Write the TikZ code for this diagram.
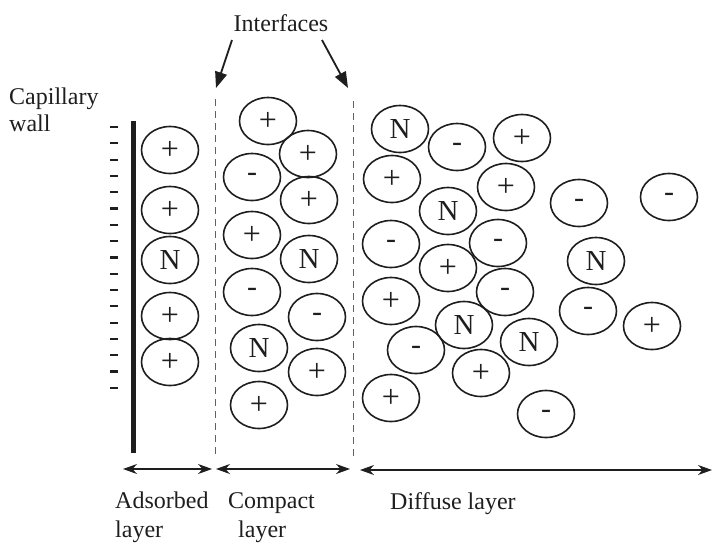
\documentclass[tikz,border=0pt]{standalone}
\usepackage{fontspec}
\setmainfont{Liberation Serif}
\usetikzlibrary{shapes.geometric,arrows.meta}
\definecolor{ink}{HTML}{1E1E1E}
\begin{document}
\begin{tikzpicture}[x=1pt,y=-1pt,
  ion/.style={draw=ink, ellipse, line width=1.6pt, minimum width=57pt, minimum height=47pt, inner sep=0pt, text=ink},
  posion/.style={ion, font=\fontsize{32}{32}\selectfont},
  negion/.style={ion, font=\fontsize{30}{30}\selectfont},
  neuion/.style={ion, font=\fontsize{29}{29}\selectfont},
  lbl/.style={text=ink, inner sep=0pt, font=\fontsize{24}{26}\selectfont},
  iface/.style={draw=ink!70, line width=0.9pt, dash pattern=on 7pt off 5pt},
  ifarrow/.style={draw=ink, line width=1.8pt, -{Triangle[length=16pt,width=12pt]}},
  span/.style={draw=ink, line width=1.3pt, {Stealth[length=14pt,width=10pt]}-{Stealth[length=14pt,width=10pt]}},
  wall/.style={draw=ink, line width=5pt},
  charge/.style={draw=ink, line width=2.2pt}
]
\useasboundingbox (0,0) rectangle (713,542);

% capillary wall
\draw[wall] (133,121) -- (133,453);
\foreach \k in {0,...,16} \draw[charge] (110,{127+16.3*\k}) -- (118,{127+16.3*\k});

% interfaces
\draw[iface] (215,99) -- (215,456);
\draw[iface] (353,101) -- (353,457);

% labels
\node[lbl, anchor=base west] (cap1) at (9,104) {Capillary};
\node[lbl, anchor=base west] (cap2) at (9,131) {wall};
\node[lbl, anchor=base] (intf) at (281,31) {Interfaces};
\node[lbl, anchor=base west] (ads1) at (115,508) {Adsorbed};
\node[lbl, anchor=base west] (ads2) at (115,537) {layer};
\node[lbl, anchor=base west] (cmp1) at (228,508) {Compact};
\node[lbl, anchor=base west] (cmp2) at (238,537) {layer};
\node[lbl, anchor=base west] (dif) at (390,509) {Diffuse layer};

% interface arrows
\coordinate (ilS) at (232,40);
\coordinate (ilE) at (216,88);
\coordinate (irS) at (322,40);
\coordinate (irE) at (348,88);
\draw[ifarrow] (ilS) -- (ilE);
\draw[ifarrow] (irS) -- (irE);

% layer spans
\coordinate (s1a) at (123,469);
\coordinate (s1b) at (212,469);
\coordinate (s2a) at (216,469);
\coordinate (s2b) at (350,469);
\coordinate (s3a) at (360,470);
\coordinate (s3b) at (712,470);
\draw[span] (s1a) -- (s1b);
\draw[span] (s2a) -- (s2b);
\draw[span] (s3a) -- (s3b);

% adsorbed layer
\node[posion] (a1) at (170,150) {+};
\node[posion] (a2) at (170,210) {+};
\node[neuion] (a3) at (170,260) {N};
\node[posion] (a4) at (170,316) {+};
\node[posion] (a5) at (170,362) {+};

% compact layer
\node[posion] (b1) at (268,121) {+};
\node[posion] (b2) at (308,154) {+};
\node[negion] (b3) at (252,177) {-};
\node[posion] (b4) at (309,200) {+};
\node[posion] (b5) at (252,235) {+};
\node[neuion] (b6) at (309,259) {N};
\node[negion] (b7) at (252,292) {-};
\node[negion] (b8) at (317,317) {-};
\node[neuion] (b9) at (259,348) {N};
\node[posion] (b10) at (317,372) {+};
\node[posion] (b11) at (259,405) {+};

% diffuse layer
\node[neuion] (d1) at (400,129) {N};
\node[negion] (d2) at (457,147) {-};
\node[posion] (d3) at (522,138) {+};
\node[posion] (d4) at (392,179) {+};
\node[neuion] (d5) at (448,211) {N};
\node[posion] (d6) at (506,187) {+};
\node[negion] (d7) at (579,203) {-};
\node[negion] (d8) at (669,197) {-};
\node[negion] (d9) at (391,244) {-};
\node[negion] (d10) at (498,243) {-};
\node[posion] (d11) at (448,268) {+};
\node[neuion] (d12) at (596,261) {N};
\node[posion] (d13) at (391,301) {+};
\node[negion] (d14) at (505,292) {-};
\node[negion] (d15) at (588,311) {-};
\node[neuion] (d16) at (464,325) {N};
\node[posion] (d17) at (652,326) {+};
\node[negion] (d18) at (416,350) {-};
\node[neuion] (d19) at (529,342) {N};
\node[posion] (d20) at (481,373) {+};
\node[posion] (d21) at (391,398) {+};
\node[negion] (d22) at (546,414) {-};
\end{tikzpicture}
\end{document}
